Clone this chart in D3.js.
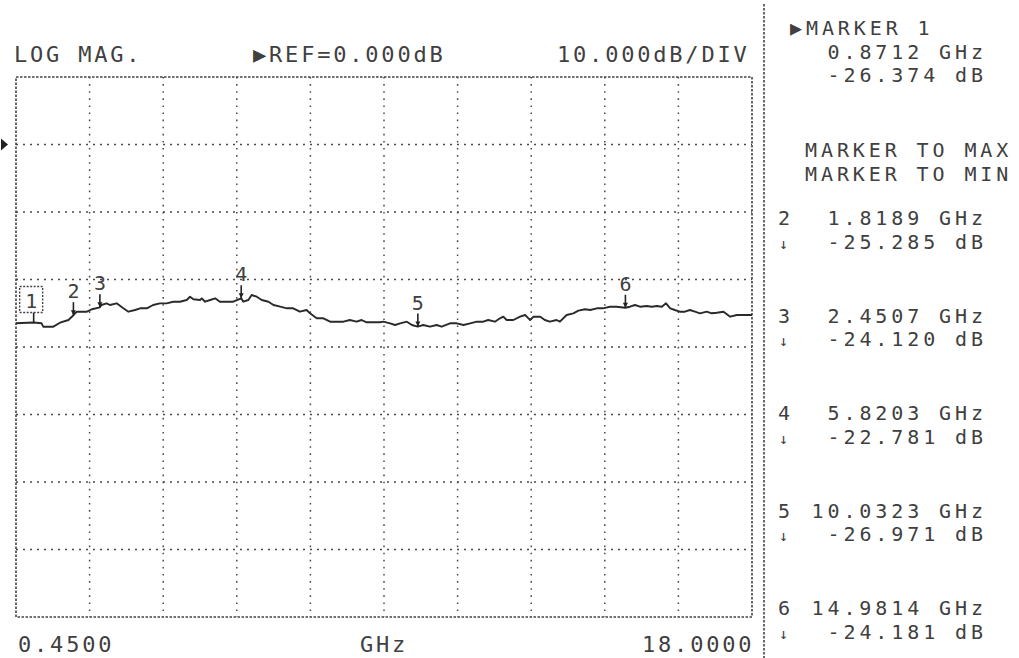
<!DOCTYPE html>
<html>
<head>
<meta charset="utf-8">
<script src="https://cdn.jsdelivr.net/npm/d3@7"></script>
<style>
body { margin: 0; background: #fff; }
svg text { font-family: "DejaVu Sans Mono", monospace; fill: #404040; }
</style>
</head>
<body>
<div id="chart"></div>
<script>

//==================== DATA ====================

// trace: frequency (GHz) and magnitude (dB)
const freqGHz = [0.45, 0.87, 1.06, 1.10, 1.34, 1.50, 1.70, 1.82, 1.90, 2.14, 2.26, 2.45, 2.49, 2.61, 2.69, 2.85,
	3.01, 3.13, 3.29, 3.41, 3.57, 3.72, 3.88, 4.04, 4.20, 4.36, 4.52, 4.60, 4.68, 4.84, 4.88, 4.96, 5.08, 5.20,
	5.31, 5.47, 5.63, 5.82, 5.87, 5.99, 6.07, 6.19, 6.31, 6.47, 6.59, 6.75, 6.91, 7.06, 7.22, 7.38, 7.46, 7.62,
	7.78, 7.94, 8.10, 8.26, 8.41, 8.57, 8.69, 8.81, 9.13, 9.21, 9.37, 9.49, 9.61, 9.77, 9.89, 10.03, 10.16, 10.32,
	10.48, 10.60, 10.80, 10.96, 11.12, 11.28, 11.44, 11.59, 11.71, 11.87, 11.99, 12.07, 12.15, 12.31, 12.47, 12.59,
	12.67, 12.71, 12.79, 12.95, 13.06, 13.18, 13.34, 13.42, 13.58, 13.74, 13.86, 14.02, 14.14, 14.30, 14.45, 14.61,
	14.77, 14.98, 15.09, 15.21, 15.33, 15.49, 15.61, 15.73, 15.85, 15.95, 16.05, 16.16, 16.28, 16.40, 16.52, 16.64,
	16.76, 16.92, 17.04, 17.16, 17.32, 17.48, 17.64, 18.00];

const magDb = [-26.49, -26.37, -26.49, -26.99, -26.99, -26.40, -26.00, -25.29, -24.77, -24.77, -24.41, -24.12, -23.78, -23.53, -23.78, -23.53,
	-24.27, -24.77, -24.52, -24.27, -24.27, -23.78, -23.53, -23.53, -23.29, -23.29, -23.04, -22.55, -22.93, -23.04, -22.79, -23.29, -23.04, -22.79,
	-23.29, -23.29, -23.29, -22.78, -23.29, -23.04, -22.30, -22.55, -23.04, -23.29, -23.78, -24.03, -24.27, -24.27, -24.77, -24.52, -25.01, -25.75,
	-25.75, -26.25, -26.25, -26.25, -26.00, -26.25, -26.00, -26.34, -26.34, -26.25, -26.49, -26.74, -26.49, -26.25, -26.74, -26.97, -26.74, -26.99,
	-26.74, -26.99, -26.49, -26.49, -26.74, -26.49, -26.25, -26.25, -26.00, -26.25, -25.75, -25.51, -26.00, -26.00, -25.51, -25.26,
	-25.75, -26.00, -25.51, -25.51, -26.00, -26.25, -26.00, -26.25, -25.26, -25.01, -24.62, -24.41, -24.52, -24.27, -24.27, -24.03,
	-24.03, -24.18, -24.03, -23.78, -24.03, -23.93, -24.03, -23.93, -24.03, -23.53, -24.27, -24.52, -24.77, -24.77, -24.52, -24.77,
	-25.01, -24.77, -25.01, -24.92, -24.77, -25.51, -25.26, -25.26];

const markerIds = [1, 2, 3, 4, 5, 6];
const markerGHz = [0.8712, 1.8189, 2.4507, 5.8203, 10.0323, 14.9814];
const markerDb = [-26.374, -25.285, -24.120, -22.781, -26.971, -24.181];

const startGHz = 0.45, stopGHz = 18;
const refDb = 0, dbPerDiv = 10;
const xDivs = 10, yDivs = 8;

const headerLabels = ['LOG MAG.', '\u25B6REF=0.000dB', '10.000dB/DIV'];
const footerLabels = ['0.4500', 'GHz', '18.0000'];

//==================== STRUCTURE ====================

const width = 1019, height = 658;
const plot = {left: 16, right: 752, top: 77, bottom: 617};

const svg = d3.select('#chart')
.append('svg')
.attr('width', width)
.attr('height', height)
.style('display', 'block');

const x = d3.scaleLinear()
.domain([startGHz, stopGHz])
.range([plot.left, plot.right]);

// ref line sits one division below top
const y = d3.scaleLinear()
.domain([refDb + dbPerDiv, refDb - dbPerDiv * (yDivs - 1)])
.range([plot.top, plot.bottom]);

const fs = 22, ls = 2.8; // ~16px per character like the plotter font

//==================== GRID ====================

const xGrid = d3.range(1, xDivs).map(i => startGHz + i * (stopGHz - startGHz) / xDivs);
const yGrid = d3.range(1, yDivs).map(i => refDb + dbPerDiv - i * dbPerDiv);

const grid = svg.append('g');

grid.selectAll('.vgrid')
.data(xGrid)
.enter()
.append('line')
.attr('x1', d => x(d)).attr('x2', d => x(d))
.attr('y1', plot.top).attr('y2', plot.bottom)
.attr('stroke', '#4a4a4a')
.attr('stroke-width', 1.5)
.attr('stroke-dasharray', '1.6,5.5');

grid.selectAll('.hgrid')
.data(yGrid)
.enter()
.append('line')
.attr('x1', plot.left).attr('x2', plot.right)
.attr('y1', d => y(d)).attr('y2', d => y(d))
.attr('stroke', '#4a4a4a')
.attr('stroke-width', 1.5)
.attr('stroke-dasharray', '2,5');

grid.append('rect')
.attr('x', plot.left).attr('y', plot.top)
.attr('width', plot.right - plot.left)
.attr('height', plot.bottom - plot.top)
.attr('fill', 'none')
.attr('stroke', '#444')
.attr('stroke-width', 1.6)
.attr('stroke-dasharray', '2.5,1.5');

// panel separator
svg.append('line')
.attr('x1', 764).attr('x2', 764)
.attr('y1', 4).attr('y2', height)
.attr('stroke', '#444')
.attr('stroke-width', 1.6)
.attr('stroke-dasharray', '2.5,1.5');

// reference level pointer
svg.append('path')
.attr('d', `M1,${y(refDb) - 6}L8,${y(refDb)}L1,${y(refDb) + 6}Z`)
.attr('fill', '#222');

//==================== TRACE ====================

const trace = freqGHz.map((f, i) => [f, magDb[i]]);

const line = d3.line()
.x(d => x(d[0]))
.y(d => y(d[1]));

svg.append('path')
.datum(trace)
.attr('d', line)
.attr('fill', 'none')
.attr('stroke', '#2a2a2a')
.attr('stroke-width', 1.9)
.attr('stroke-linejoin', 'round');

//==================== MARKERS ====================

const markers = markerIds.map((id, i) => ({id, f: markerGHz[i], db: markerDb[i]}));

const mk = svg.append('g')
.selectAll('g')
.data(markers)
.enter()
.append('g')
.attr('transform', d => `translate(${x(d.f)},${y(d.db)})`);

// tick down to the trace
mk.append('line')
.attr('x1', 0).attr('x2', 0)
.attr('y1', d => d.id === 1 ? -10 : -13)
.attr('y2', 0)
.attr('stroke', '#222')
.attr('stroke-width', 1.6);

mk.filter(d => d.id !== 1)
.append('path')
.attr('d', 'M-2.5,-5L2.5,-5L0,0Z')
.attr('fill', '#222');

// active marker gets a dotted box
mk.filter(d => d.id === 1)
.append('rect')
.attr('x', -14).attr('y', -36)
.attr('width', 23).attr('height', 26)
.attr('fill', 'none')
.attr('stroke', '#444')
.attr('stroke-width', 1.4)
.attr('stroke-dasharray', '2,1.5');

mk.append('text')
.attr('x', d => d.id === 1 ? -2.5 : 0)
.attr('y', d => d.id === 1 ? -15 : -17)
.attr('text-anchor', 'middle')
.style('font-size', '20px')
.text(d => d.id);

//==================== LABELS ====================

const header = svg.append('g')
.style('font-size', fs + 'px')
.style('letter-spacing', ls + 'px');

header.selectAll('text')
.data(headerLabels)
.enter()
.append('text')
.attr('x', (d, i) => [14, 253, 557][i])
.attr('y', 62)
.text(d => d);

header.selectAll('.foot')
.data(footerLabels)
.enter()
.append('text')
.attr('x', (d, i) => [18, 360, 642][i])
.attr('y', 652)
.text(d => d);

//==================== MARKER READOUT ====================

const pfs = 20, pls = 3.9;
const lineGap = 23.5;
const fmtF = f => f.toFixed(4) + ' GHz';
const fmtDb = v => v.toFixed(3) + ' dB';
const cell = pfs * 0.602 + pls;
const valueRight = 983;

const panel = svg.append('g')
.style('font-size', pfs + 'px')
.style('letter-spacing', pls + 'px');

// right-align readout values on the character grid
const putRight = (str, yy) => panel.append('text')
.attr('x', valueRight - str.length * cell + pls)
.attr('y', yy)
.text(str);

panel.append('text').attr('x', 790).attr('y', 35).text('\u25B6MARKER ' + markers[0].id);
putRight(fmtF(markers[0].f), 35 + lineGap);
putRight(fmtDb(markers[0].db), 35 + 2 * lineGap);

panel.append('text').attr('x', 805).attr('y', 157).text('MARKER TO MAX');
panel.append('text').attr('x', 805).attr('y', 157 + lineGap).text('MARKER TO MIN');

markers.slice(1).forEach((m, i) => {
	const yy = 225 + i * 97.5;
	panel.append('text').attr('x', 778).attr('y', yy).text(m.id);
	panel.append('text').attr('x', 779).attr('y', yy + lineGap)
	.style('font-size', '15px')
	.style('letter-spacing', '0px')
	.text('\u2193');
	putRight(fmtF(m.f), yy);
	putRight(fmtDb(m.db), yy + lineGap);
});

</script>
</body>
</html>
